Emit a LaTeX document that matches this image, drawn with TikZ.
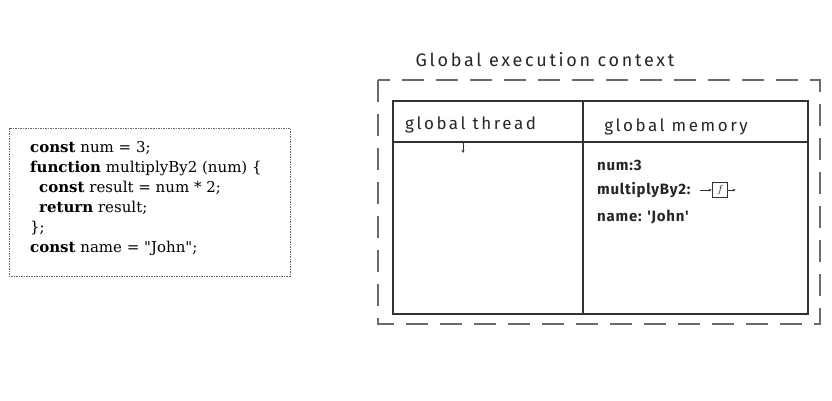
\documentclass[tikz,border=0pt]{standalone}
\usepackage{fontspec}
\newfontfamily\codefont{DejaVu Serif}
\newfontfamily\hand[LetterSpace=15]{Fira Sans}
\newfontfamily\handmem[LetterSpace=5]{Fira Sans}
\usetikzlibrary{positioning,arrows.meta}
\newcommand{\kw}[1]{\textbf{#1}}

\begin{document}
\begin{tikzpicture}[x=1pt,y=-1pt,
    codebox/.style={draw=gray!80!black,line width=0.7pt,dash pattern=on 1.5pt off 1pt},
    outerbox/.style={draw=gray!85!black,line width=2pt,dash pattern=on 22pt off 12pt},
    innerbox/.style={draw=black!80,line width=1.6pt},
    hw/.style={font=\hand\fontsize{17}{19}\selectfont,text=black!85,inner sep=0pt},
    mem/.style={font=\handmem\fontsize{15}{17}\selectfont\bfseries,text=black!85,inner sep=0pt,anchor=west},
    tip/.style={-{Stealth[length=3pt,width=3pt]},black!80,line width=0.8pt}]
  \useasboundingbox (0,0) rectangle (832,400);
  \coordinate (C1) at (9,128);
  \coordinate (C2) at (290,276);
  \coordinate (O1) at (378,80);
  \coordinate (O2) at (820,324);
  \coordinate (I1) at (393,101);
  \coordinate (I2) at (808,314);
  \coordinate (Vt) at (583,101);
  \coordinate (Vb) at (583,314);
  \coordinate (Hl) at (393,142);
  \coordinate (Hr) at (808,142);

  \draw[codebox] (C1) rectangle (C2);
  \node[anchor=north west,align=left,inner sep=0pt,
        font=\codefont\fontsize{15}{20}\selectfont] (code) at (30,141)
    {\kw{const} num = 3;\\
     \kw{function} multiplyBy2 (num) \{\\
     \hspace*{9pt}\kw{const} result = num * 2;\\
     \hspace*{9pt}\kw{return} result;\\
     \};\\
     \kw{const} name = "John";};

  \node[hw,font=\hand\fontsize{18}{20}\selectfont] (title) at (545,60) {Global execution context};
  \draw[outerbox] (O1) rectangle (O2);
  \draw[innerbox] (I1) rectangle (I2);
  \draw[innerbox,line width=1.2pt] (Vt) -- (Vb);
  \draw[innerbox] (Hl) -- (Hr);

  \node[hw,anchor=west] (thread) at (405,125) {global thread};
  \node[hw] (memory) at (676,127) {global memory};
  \coordinate (Ta) at (463,142);
  \coordinate (Tb) at (463,153);
  \draw[tip] (Ta) -- (Tb);

  \node[mem] (num) at (597,165) {num:3};
  \node[mem] (mul) at (597,190) {multiplyBy2:};
  \node[mem] (name) at (597,217) {name: 'John'};
  \node[draw=black!80,line width=1pt,minimum size=15pt,inner sep=0pt,
        font=\fontsize{10}{10}\selectfont\itshape,right=21pt of mul] (fn) {f};
  \coordinate (Fin) at ([xshift=-12pt]fn.west);
  \coordinate (Fout) at ([xshift=8pt]fn.east);
  \draw[tip] (Fin) -- (fn.west);
  \draw[tip] (fn.east) -- (Fout);
\end{tikzpicture}
\end{document}
